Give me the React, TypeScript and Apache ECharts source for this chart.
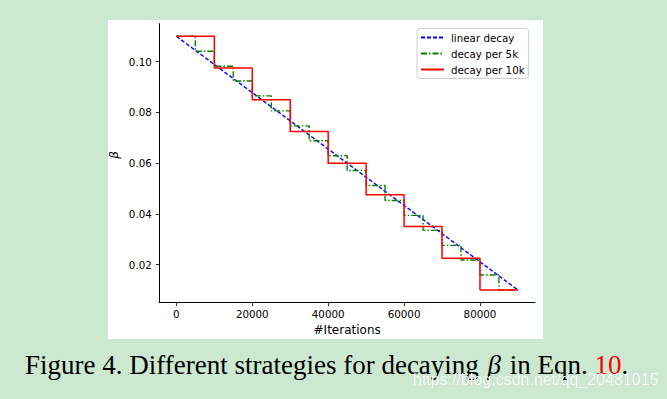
import React, { useEffect, useRef } from 'react';
import * as echarts from 'echarts';

const xTicks = [0, 20000, 40000, 60000, 80000];
const yTicks = [0.02, 0.04, 0.06, 0.08, 0.1];

const seriesNames = ['linear decay', 'decay per 5k', 'decay per 10k'];

const linearX = [0, 90000];
const linearY = [0.11, 0.01];

const per5kX = [0, 5000, 10000, 15000, 20000, 25000, 30000, 35000, 40000, 45000, 50000, 55000, 60000, 65000, 70000, 75000, 80000, 85000, 90000];
const per5kY = [0.11, 0.1041, 0.0982, 0.0924, 0.0865, 0.0806, 0.0747, 0.0688, 0.0629, 0.0571, 0.0512, 0.0453, 0.0394, 0.0335, 0.0276, 0.0218, 0.0159, 0.01, 0.01];

const per10kX = [0, 10000, 20000, 30000, 40000, 50000, 60000, 70000, 80000, 90000];
const per10kY = [0.11, 0.0975, 0.085, 0.0725, 0.06, 0.0475, 0.035, 0.0225, 0.01, 0.01];

const xName = '#Iterations';
const yName = 'β';
const caption = ['Figure 4. Different strategies for decaying ', 'β', ' in Eqn. ', '10', '.'];
const watermark = 'https://blog.csdn.net/qq_20481015';

const zip = (xs: number[], ys: number[]) => xs.map((x, i) => [x, ys[i]]);

export default function App() {
  const ref = useRef<HTMLDivElement>(null);
  useEffect(() => {
    if (!ref.current) return;
    const chart = echarts.init(ref.current, undefined, { renderer: 'svg' });
    const font = 'DejaVu Sans';
    chart.setOption({
      animation: false,
      backgroundColor: '#cce8d1',
      textStyle: { fontFamily: font },
      grid: { left: 159.3, right: 132, top: 23.6, bottom: 96.3, containLabel: false },
      xAxis: {
        type: 'value',
        min: -4500,
        max: 94500,
        splitLine: { show: false },
        axisLine: { show: true, onZero: false, lineStyle: { color: '#000', width: 1 } },
        axisTick: { show: true, customValues: xTicks, length: 3.5, lineStyle: { color: '#000', width: 0.8 } },
        axisLabel: { customValues: xTicks, color: '#000', fontSize: 10.3, margin: 6, fontFamily: font, formatter: (v: number) => String(v) },
        name: xName,
        nameLocation: 'middle',
        nameGap: 21,
        nameTextStyle: { color: '#000', fontSize: 12, fontFamily: font },
      },
      yAxis: {
        type: 'value',
        min: 0.005,
        max: 0.115,
        splitLine: { show: false },
        axisLine: { show: true, onZero: false, lineStyle: { color: '#000', width: 1 } },
        axisTick: { show: true, customValues: yTicks, length: 3.5, lineStyle: { color: '#000', width: 0.8 } },
        axisLabel: { customValues: yTicks, color: '#000', fontSize: 10.3, margin: 7.5, fontFamily: font, formatter: (v: number) => v.toFixed(2) },
      },
      legend: {
        orient: 'vertical',
        left: 417,
        top: 28.5,
        data: seriesNames,
        backgroundColor: '#fff',
        borderColor: '#cccccc',
        borderWidth: 1,
        borderRadius: 3,
        padding: [4, 4, 4, 3],
        itemWidth: 23,
        itemHeight: 10,
        itemGap: 6,
        itemStyle: { opacity: 0 },
        textStyle: { color: '#000', fontSize: 10.3, fontFamily: font, padding: [0, 0, 0, 2] },
      },
      graphic: [
        { type: 'rect', z: -10, shape: { x: 108, y: 20, width: 435, height: 319 }, style: { fill: '#ffffff' } },
        {
          type: 'text', z: 100, x: 114, y: 155, rotation: Math.PI / 2,
          style: { text: yName, fontFamily: font, fontStyle: 'italic', fontSize: 12, fill: '#000', align: 'center', verticalAlign: 'middle' },
        },
        {
          type: 'text', z: 100, x: 25, y: 365,
          style: {
            text: `{n|${caption[0]}}{b|${caption[1]}}{n|${caption[2]}}{r|${caption[3]}}{n|${caption[4]}}`,
            align: 'left', verticalAlign: 'middle',
            rich: {
              n: { fontFamily: 'Liberation Serif', fontSize: 27, fill: '#000', color: '#000' },
              b: { fontFamily: 'Liberation Serif', fontStyle: 'italic', fontSize: 27, fill: '#000', color: '#000', padding: [0, 2, 0, 2] },
              r: { fontFamily: 'Liberation Serif', fontSize: 27, fill: '#ff0000', color: '#ff0000' },
            },
          },
        },
        {
          type: 'text', z: 110, x: 413, y: 379,
          style: {
            text: watermark, fontFamily: 'Liberation Sans', fontSize: 16, fill: 'rgba(255,255,255,0.9)',
            align: 'left', verticalAlign: 'middle',
            textShadowColor: 'rgba(0,0,0,0.35)', textShadowBlur: 1.5,
          },
        },
      ],
      series: [
        {
          name: seriesNames[0], type: 'line', data: zip(linearX, linearY), symbol: 'none', z: 2,
          lineStyle: { color: '#0000ff', width: 1.4, type: [4, 2] }, itemStyle: { color: '#0000ff' },
        },
        {
          name: seriesNames[1], type: 'line', step: 'end', data: zip(per5kX, per5kY), symbol: 'none', z: 3,
          lineStyle: { color: '#008000', width: 1.4, type: [6, 2, 1.5, 2] }, itemStyle: { color: '#008000' },
        },
        {
          name: seriesNames[2], type: 'line', step: 'end', data: zip(per10kX, per10kY), symbol: 'none', z: 4,
          lineStyle: { color: '#ff0000', width: 1.5 }, itemStyle: { color: '#ff0000' },
        },
      ],
    });
    return () => chart.dispose();
  }, []);
  return <div ref={ref} style={{ position: 'fixed', left: 0, top: 0, width: 667, height: 399 }} />;
}
